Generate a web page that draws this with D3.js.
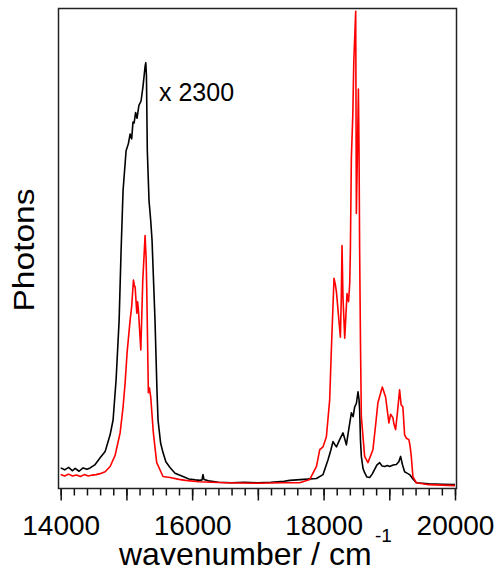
<!DOCTYPE html>
<html>
<head>
<meta charset="utf-8">
<script src="https://cdn.jsdelivr.net/npm/d3@7"></script>
<style>
  body { margin: 0; background: #fff; }
  text { font-family: "Liberation Sans", Arial, sans-serif; fill: #000; }
</style>
</head>
<body>
<div id="chart"></div>
<script>
// Black spectrum (scaled x 2300): wavenumber / relative photons
var blackX = [14000, 14060, 14120, 14180, 14220, 14280, 14340, 14400, 14448, 14524, 14600, 14676, 14752, 14797, 14843, 14889, 14919, 14949, 14995, 15030, 15056, 15080, 15100, 15117, 15140, 15162, 15190, 15223, 15253, 15284, 15295, 15305, 15318, 15344, 15370, 15390, 15435, 15466, 15481, 15520, 15557, 15600, 15663, 15740, 15861, 15950, 16050, 16119, 16150, 16165, 16180, 16250, 16400, 16600, 16800, 17000, 17200, 17400, 17486, 17700, 17892, 17992, 18068, 18110, 18144, 18170, 18196, 18245, 18296, 18320, 18347, 18385, 18423, 18450, 18473, 18500, 18524, 18540, 18549, 18562, 18575, 18600, 18625, 18660, 18701, 18740, 18777, 18810, 18853, 18890, 18929, 18970, 19005, 19060, 19107, 19145, 19172, 19200, 19233, 19270, 19309, 19360, 19411, 19600, 19800, 20000];
var blackY = [4.3, 3.9, 4.4, 3.7, 4.2, 3.6, 4.3, 4.0, 4.3, 5.0, 6.4, 7.7, 11.2, 14.3, 22.7, 35.1, 49.7, 62.2, 70.5, 72.0, 74.0, 73.0, 76.5, 76.3, 78.5, 77.3, 80.0, 80.9, 84.0, 88.1, 88.9, 86.0, 70.5, 60.1, 55.9, 51.8, 35.1, 20.0, 14.3, 9.5, 7.5, 5.6, 4.4, 3.2, 2.5, 2.0, 1.8, 1.7, 1.8, 2.9, 1.9, 1.6, 1.3, 1.2, 1.3, 1.2, 1.3, 1.5, 1.7, 1.9, 2.1, 2.9, 6.0, 8.0, 9.8, 9.2, 8.7, 10.2, 11.6, 10.5, 9.1, 12.5, 15.8, 15.0, 17.0, 17.8, 20.2, 18.5, 16.4, 10.0, 6.7, 4.2, 3.3, 2.4, 2.3, 3.0, 4.0, 4.9, 5.4, 4.7, 4.6, 4.8, 4.6, 4.9, 5.0, 5.6, 6.7, 5.0, 3.5, 3.2, 2.9, 2.0, 1.2, 1.0, 0.9, 0.8];

// Red spectrum
var redX = [14000, 14060, 14120, 14180, 14240, 14300, 14360, 14420, 14480, 14540, 14600, 14676, 14752, 14828, 14870, 14904, 14949, 14980, 15010, 15056, 15080, 15107, 15120, 15133, 15158, 15170, 15183, 15219, 15249, 15270, 15284, 15300, 15309, 15334, 15350, 15370, 15410, 15461, 15557, 15663, 15800, 15900, 16100, 16500, 17000, 17400, 17638, 17790, 17892, 17942, 17992, 18043, 18093, 18120, 18159, 18180, 18196, 18256, 18270, 18281, 18295, 18322, 18357, 18380, 18398, 18408, 18423, 18445, 18460, 18489, 18499, 18515, 18530, 18540, 18549, 18562, 18575, 18625, 18675, 18751, 18790, 18827, 18894, 18944, 18994, 19020, 19055, 19070, 19096, 19125, 19157, 19180, 19207, 19233, 19260, 19298, 19315, 19335, 19359, 19411, 19600, 19800, 20000];
var redY = [2.9, 2.6, 3.0, 2.6, 2.8, 2.5, 2.9, 2.6, 2.8, 2.9, 3.1, 3.5, 4.6, 6.9, 9.5, 11.6, 17.0, 22.0, 28.3, 35.1, 38.0, 43.5, 42.5, 42.0, 36.6, 39.0, 37.2, 28.9, 43.5, 49.0, 52.8, 48.0, 42.0, 20.0, 21.0, 19.1, 11.6, 5.4, 2.5, 2.3, 1.9, 1.7, 1.4, 1.2, 1.1, 1.2, 1.2, 1.9, 4.6, 8.1, 8.7, 10.8, 18.5, 29.5, 43.9, 42.5, 41.0, 31.6, 40.0, 50.7, 40.0, 31.4, 40.7, 39.0, 42.8, 49.7, 69.0, 78.0, 89.2, 99.6, 57.4, 70.0, 83.4, 70.0, 49.7, 30.0, 15.0, 6.7, 5.4, 8.1, 13.0, 17.9, 21.2, 19.1, 13.7, 15.5, 14.8, 13.5, 12.3, 16.0, 20.6, 17.5, 17.0, 11.2, 10.5, 10.2, 9.0, 6.7, 2.5, 1.2, 0.8, 0.7, 0.6];

var majorTicks = [14000, 15000, 16000, 17000, 18000, 19000, 20000];
var tickLabels = [14000, 16000, 18000, 20000];

var w = 495, h = 572;
var frame = { left: 58.5, right: 456.5, top: 8.5, bottom: 488.5 };

var svg = d3.select("#chart").append("svg")
    .attr("width", w)
    .attr("height", h);

var x = d3.scaleLinear().domain([14000, 20000]).range([60.7, 455]);
var y = d3.scaleLinear().domain([0, 100]).range([frame.bottom, 9.5]);

// minor ticks every 200
var minor = d3.range(14000, 20001, 200);
var gMinor = svg.append("g")
    .attr("transform", "translate(0," + frame.bottom + ")")
    .call(d3.axisBottom(x).tickValues(minor).tickSize(7).tickFormat(""));

// major ticks every 1000, labels every 2000
var gMajor = svg.append("g")
    .attr("transform", "translate(0," + frame.bottom + ")")
    .call(d3.axisBottom(x).tickValues(majorTicks).tickSize(12)
        .tickFormat(function(d) { return tickLabels.indexOf(d) >= 0 ? d : ""; }));

[gMinor, gMajor].forEach(function(g) {
    g.select(".domain").remove();
    g.selectAll(".tick line").attr("stroke", "#111").attr("stroke-width", 1.5);
});
gMajor.selectAll(".tick text")
    .attr("y", 46)
    .attr("dy", 0)
    .style("font-size", "28px")
    .style("font-family", "'Liberation Sans', Arial, sans-serif")
    .attr("fill", "#000");

// spectra
var line = d3.line()
    .x(function(d) { return x(d[0]); })
    .y(function(d) { return y(d[1]); });

svg.append("path")
    .datum(d3.zip(blackX, blackY))
    .attr("d", line)
    .attr("fill", "none")
    .attr("stroke", "#000")
    .attr("stroke-width", 1.6)
    .attr("stroke-linejoin", "round");

svg.append("path")
    .datum(d3.zip(redX, redY))
    .attr("d", line)
    .attr("fill", "none")
    .attr("stroke", "#ff0000")
    .attr("stroke-width", 1.6)
    .attr("stroke-linejoin", "round");

// plot frame
svg.append("rect")
    .attr("x", frame.left)
    .attr("y", frame.top)
    .attr("width", frame.right - frame.left)
    .attr("height", frame.bottom - frame.top)
    .attr("fill", "none")
    .attr("stroke", "#222")
    .attr("stroke-width", 1.5);

// annotation
svg.append("text")
    .attr("x", 159)
    .attr("y", 101)
    .style("font-size", "25px")
    .text("x 2300");

// axis titles
svg.append("text")
    .attr("x", 119)
    .attr("y", 565)
    .style("font-size", "32px")
    .text("wavenumber / cm");
svg.append("text")
    .attr("x", 375)
    .attr("y", 542)
    .style("font-size", "19px")
    .text("-1");

svg.append("text")
    .attr("transform", "translate(33.5,250) rotate(-90)")
    .attr("text-anchor", "middle")
    .style("font-size", "29px")
    .attr("textLength", 123)
    .attr("lengthAdjust", "spacingAndGlyphs")
    .text("Photons");
</script>
</body>
</html>
